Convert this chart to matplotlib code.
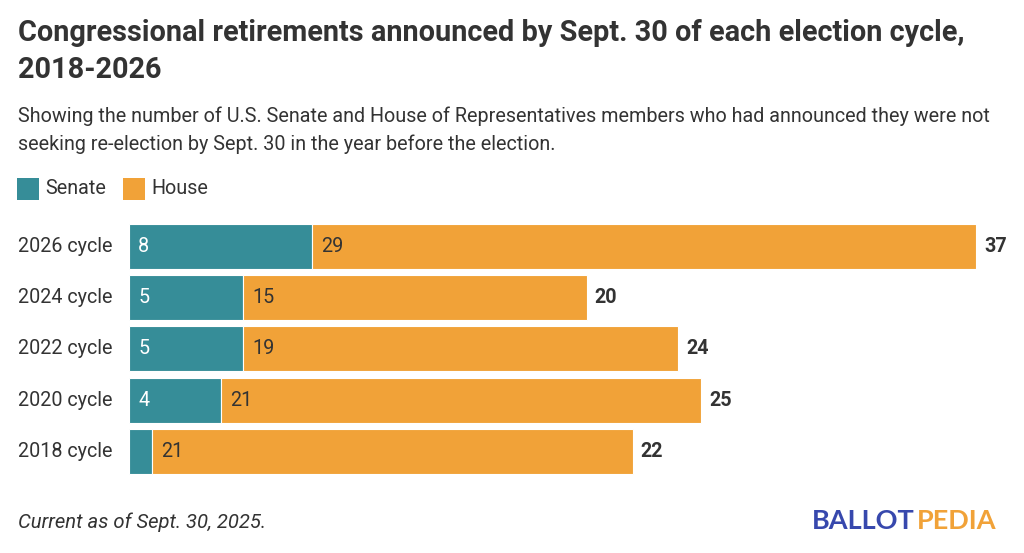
import matplotlib
matplotlib.use("Agg")
import matplotlib.pyplot as plt
from matplotlib.patches import Rectangle

categories = ["2026 cycle", "2024 cycle", "2022 cycle", "2020 cycle", "2018 cycle"]
senate = [8, 5, 5, 4, 1]
house = [29, 15, 19, 21, 21]
senate_labels = ["8", "5", "5", "4", ""]
totals = [s + h for s, h in zip(senate, house)]

TEAL = "#368d98"
ORANGE = "#f1a238"
DARK = "#333333"
plt.rcParams["font.family"] = ["Roboto", "DejaVu Sans"]

fig = plt.figure(figsize=(10.24, 5.53), dpi=100)
W, H = 1024, 553
FS = 14.2

ax = fig.add_axes([129 / W, 1 - 477 / H, 847 / W, (477 - 220.9) / H])
ypos = list(range(len(categories)))
ax.barh(ypos, senate, height=0.88, color=TEAL, edgecolor="white", linewidth=0.8)
ax.barh(ypos, house, left=senate, height=0.88, color=ORANGE, edgecolor="white", linewidth=0.8)
ax.set_xlim(0, 37)
ax.set_ylim(len(categories) - 0.5, -0.5)
ax.axis("off")

for i, (s, h, t, sl) in enumerate(zip(senate, house, totals, senate_labels)):
    if sl:
        ax.text(0.4, i, sl, va="center", ha="left", fontsize=FS, color="white")
    ax.text(s + 0.4, i, str(h), va="center", ha="left", fontsize=FS, color=DARK)
    ax.text(t + 0.35, i, str(t), va="center", ha="left", fontsize=FS, color=DARK, fontweight="bold")
    fig.text(18 / W, 0, categories[i], va="center", ha="left", fontsize=FS, color=DARK,
             transform=matplotlib.transforms.blended_transform_factory(fig.transFigure, ax.transData),
             position=(18 / W, i))

fig.text(18 / W, 1 - 33 / H, "Congressional retirements announced by Sept. 30 of each election cycle,",
         fontsize=20.8, fontweight="bold", color=DARK, va="center", ha="left")
fig.text(18 / W, 1 - 70 / H, "2018-2026", fontsize=20.8, fontweight="bold", color=DARK,
         va="center", ha="left")
fig.text(18 / W, 1 - 116 / H,
         "Showing the number of U.S. Senate and House of Representatives members who had announced they were not",
         fontsize=14.2, color=DARK, va="center", ha="left")
fig.text(18 / W, 1 - 144 / H, "seeking re-election by Sept. 30 in the year before the election.",
         fontsize=14.2, color=DARK, va="center", ha="left")

# legend
fig.patches.append(Rectangle((17 / W, 1 - 200 / H), 22 / W, 22 / H, transform=fig.transFigure,
                             facecolor=TEAL, edgecolor="none"))
fig.text(45 / W, 1 - 189 / H, "Senate", fontsize=FS, color=DARK, va="center", ha="left")
fig.patches.append(Rectangle((123 / W, 1 - 200 / H), 22 / W, 22 / H, transform=fig.transFigure,
                             facecolor=ORANGE, edgecolor="none"))
fig.text(151 / W, 1 - 189 / H, "House", fontsize=FS, color=DARK, va="center", ha="left")

fig.text(18 / W, 1 - 522 / H, "Current as of Sept. 30, 2025.", fontsize=14.6, style="italic",
         color=DARK, va="center", ha="left")

t1 = fig.text(812 / W, 1 - 521 / H, "BALLOT", fontsize=19.5, fontweight="bold", color="#3748ad",
              va="center", ha="left", family=["Lato", "DejaVu Sans"])
fig.canvas.draw()
bb = t1.get_window_extent()
fig.text(bb.x1 / W + 2 / W, 1 - 521 / H, "PEDIA", fontsize=19.5, fontweight="bold", color=ORANGE,
         va="center", ha="left", family=["Lato", "DejaVu Sans"])

fig.savefig("out.png", dpi=100)
